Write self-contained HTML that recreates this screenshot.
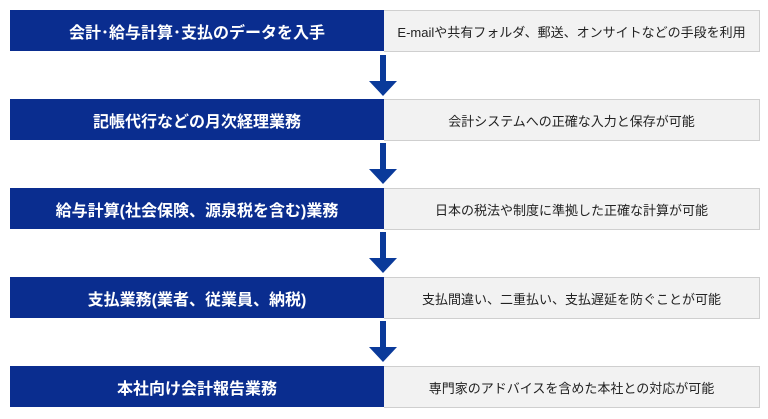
<!DOCTYPE html>
<html><head><meta charset="utf-8"><style>
body{margin:0;width:768px;height:419px;background:#fff;position:relative;overflow:hidden;font-family:"Liberation Sans","Noto Sans CJK JP",sans-serif}
.b{position:absolute;left:10px;width:374px;height:41px;background:#0a2d8f;color:#fff;font-weight:bold;font-size:16px;display:flex;align-items:center;justify-content:center}
.g{position:absolute;left:384px;width:375px;height:40px;background:#f2f2f2;border:1px solid #cfcfcf;border-left:none;color:#222;font-size:13px;display:flex;align-items:center;justify-content:center}
svg{position:absolute;left:0;top:0}
</style></head><body>
<div class="b" style="top:10px">会計･給与計算･支払のデータを入手</div>
<div class="g" style="top:10px">E-mailや共有フォルダ、郵送、オンサイトなどの手段を利用</div>
<div class="b" style="top:99px">記帳代行などの月次経理業務</div>
<div class="g" style="top:99px">会計システムへの正確な入力と保存が可能</div>
<div class="b" style="top:188px">給与計算(社会保険、源泉税を含む)業務</div>
<div class="g" style="top:188px">日本の税法や制度に準拠した正確な計算が可能</div>
<div class="b" style="top:277px">支払業務(業者、従業員、納税)</div>
<div class="g" style="top:277px">支払間違い、二重払い、支払遅延を防ぐことが可能</div>
<div class="b" style="top:366px">本社向け会計報告業務</div>
<div class="g" style="top:366px">専門家のアドバイスを含めた本社との対応が可能</div>
<svg width="768" height="419">
<g fill="#0a3a9a">
<rect x="380" y="55" width="6" height="27"/><polygon points="369,81 397,81 383,96"/>
<rect x="380" y="143" width="6" height="27"/><polygon points="369,169 397,169 383,184"/>
<rect x="380" y="232" width="6" height="27"/><polygon points="369,258 397,258 383,273"/>
<rect x="380" y="321" width="6" height="27"/><polygon points="369,347 397,347 383,362"/>
</g></svg>
</body></html>
